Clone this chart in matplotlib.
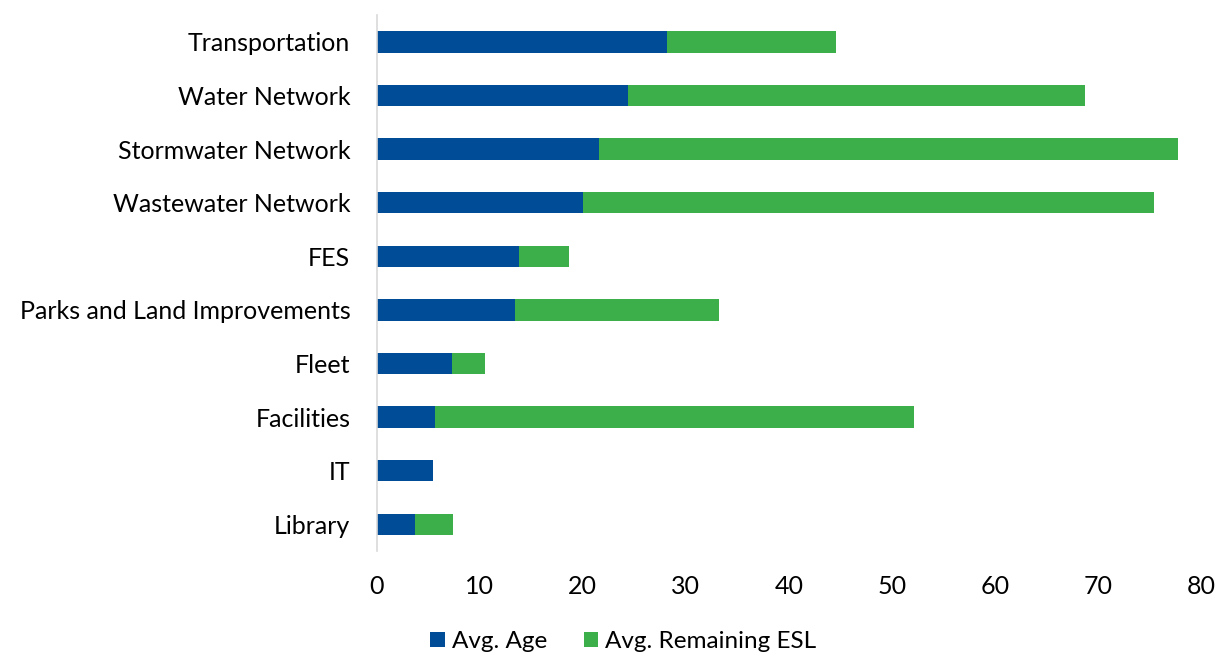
import matplotlib.pyplot as plt
import numpy as np

plt.rcParams['font.family'] = ['Lato', 'DejaVu Sans']

categories = ['Transportation', 'Water Network', 'Stormwater Network', 'Wastewater Network',
              'FES', 'Parks and Land Improvements', 'Fleet', 'Facilities', 'IT', 'Library']
avg_age = [28.2, 24.4, 21.6, 20.0, 13.8, 13.4, 7.3, 5.7, 5.5, 3.7]
avg_remaining = [16.4, 44.3, 56.1, 55.4, 4.9, 19.8, 3.2, 46.4, 0.0, 3.7]

blue = '#004C97'
green = '#3CAF4A'

fig = plt.figure(figsize=(12.27, 6.56), dpi=100)
ax = fig.add_axes([0.307, 0.160, 0.672, 0.817])

y = np.arange(len(categories))[::-1]
ax.barh(y, avg_age, height=0.4, color=blue, label='Avg. Age')
ax.barh(y, avg_remaining, left=avg_age, height=0.4, color=green, label='Avg. Remaining ESL')

ax.set_xlim(0, 80)
ax.set_ylim(-0.5, len(categories) - 0.5)
ax.set_xticks(range(0, 81, 10))
ax.set_yticks(y)
ax.set_yticklabels(categories)
ax.tick_params(length=0, labelsize=18, colors='#000000')
ax.tick_params(axis='x', pad=17)
ax.tick_params(axis='y', pad=19)

for s in ['top', 'right', 'bottom']:
    ax.spines[s].set_visible(False)
ax.spines['left'].set_color('#d9d9d9')
ax.spines['left'].set_linewidth(1.2)

fig.legend(loc='center', bbox_to_anchor=(0.508, 0.022), ncol=2, frameon=False,
           fontsize=17.5, handlelength=0.6, handleheight=0.6, handletextpad=0.3,
           columnspacing=1.5)

fig.savefig('out.png', dpi=100)
